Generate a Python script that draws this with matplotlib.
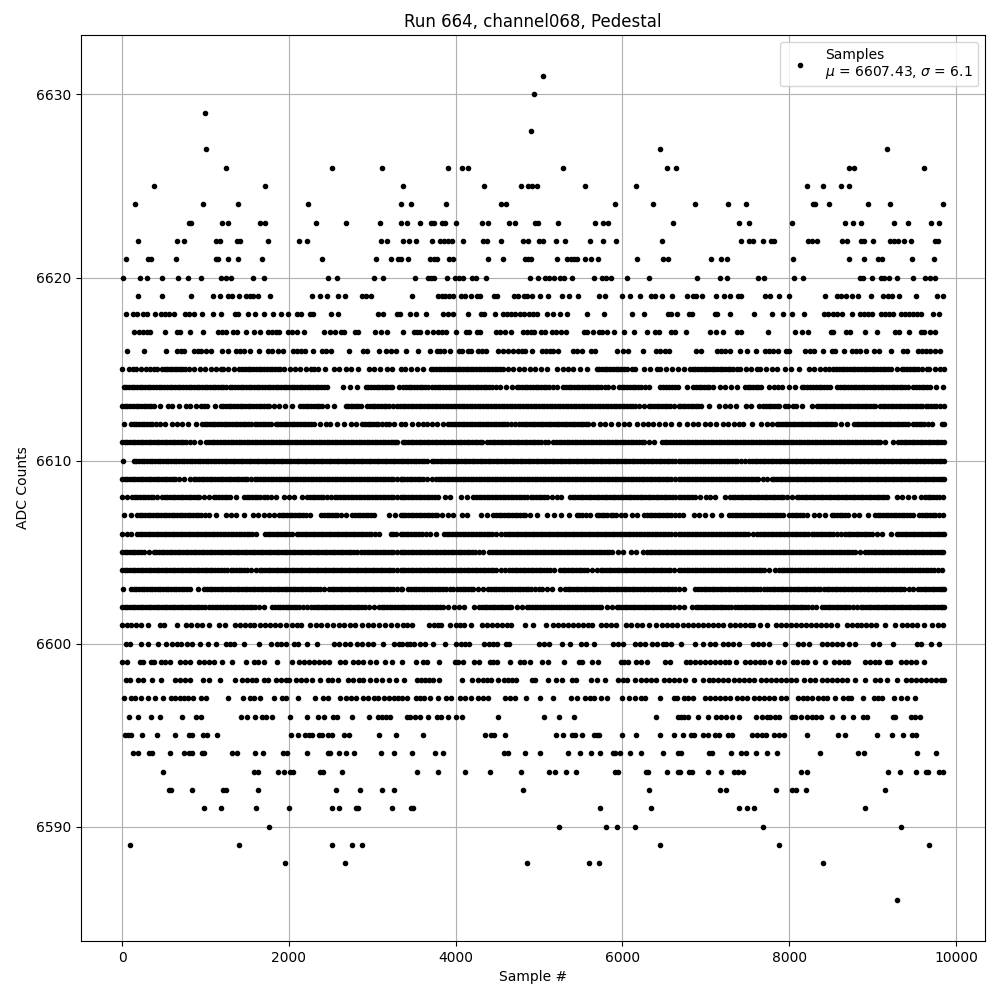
# Pedestal samples of one ADC channel. x positions read per ADC level.
import matplotlib
matplotlib.use('Agg')
import matplotlib.pyplot as plt

s6631 = [5052]
s6630 = [4944]
s6629 = [992]
s6628 = [4908]
s6627 = [1008, 6444, 9176]
s6626 = [1244, 2516, 3116, 3912, 4080, 4144, 5292, 6528, 6636, 8720, 8780, 9620]
s6625 = [380, 1712, 3364, 4344, 4788, 4872, 4920, 4980, 5556, 6168, 8216, 8400, 8620, 8720]
s6624 = [152, 968, 1388, 2228, 3340, 3468, 3888, 4548, 4600, 5916, 6360, 6872, 7268, 7484, 8288, 8312, 8480, 8948, 9212, 9848]
s6623 = [800, 828, 1200, 1268, 1652, 1712, 2324, 2688, 3092, 3340, 3412, 3576, 3708, 3744, 3840, 3876, 4008, 4320, 4392, 4644, 4716, 4956, 4992, 5232, 5676, 5772, 5832, 6600, 7400, 7520, 8036, 8672, 8768, 8864, 9260, 9428, 9704, 9800]
s6622 = [188, 656, 740, 1124, 1172, 1376, 1416, 1748, 2120, 2212, 3104, 3176, 3372, 3444, 3528, 3720, 3816, 3864, 3912, 3960, 4092, 4332, 4380, 4548, 4812, 4872, 5004, 5052, 5208, 5316, 5616, 5772, 5928, 6468, 7424, 7520, 7568, 7688, 7784, 7820, 8228, 8276, 8336, 8636, 8696, 8864, 8900, 9008, 9212, 9260, 9308, 9380, 9464, 9752, 9788]
s6621 = [44, 308, 348, 644, 1124, 1152, 1268, 1388, 1676, 2396, 3044, 3224, 3308, 3340, 3432, 3696, 3744, 3780, 3924, 3972, 4392, 4572, 4836, 4872, 4908, 5220, 5340, 5380, 5424, 5460, 5556, 5628, 5712, 6180, 6480, 6540, 7064, 7184, 7256, 8048, 8720, 8900, 9068, 9116, 9476, 9740]
s6620 = [12, 212, 296, 476, 668, 788, 944, 1184, 1248, 1304, 1568, 1700, 2468, 2576, 3020, 3128, 3516, 3672, 3708, 3744, 3900, 3996, 4044, 4092, 4200, 4248, 4368, 4896, 4992, 5076, 5124, 5184, 5256, 5304, 5400, 5664, 5760, 5808, 5868, 6060, 6312, 6896, 7172, 7256, 7628, 7700, 8060, 8168, 8852, 8888, 8996, 9104, 9140, 9200, 9296, 9488, 9632, 9692, 9752]
s6619 = [188, 476, 824, 1088, 1172, 1268, 1316, 1400, 1484, 1532, 1568, 1628, 1772, 2276, 2372, 2460, 2588, 2672, 2876, 2924, 2984, 3480, 3792, 3840, 3876, 3924, 3972, 4068, 4116, 4180, 4260, 4296, 4464, 4500, 4704, 4752, 4824, 4860, 4920, 5016, 5112, 5280, 5364, 5472, 5724, 5796, 6000, 6096, 6204, 6336, 6384, 6468, 6588, 6776, 6848, 6884, 6956, 7124, 7220, 7292, 7388, 7416, 7712, 7772, 7880, 8000, 8432, 8576, 8624, 8684, 8756, 8828, 8984, 9128, 9188, 9236, 9320, 9520, 9776, 9848]
s6618 = [48, 128, 176, 248, 296, 392, 464, 512, 560, 620, 752, 800, 860, 956, 1088, 1184, 1352, 1388, 1508, 1592, 1696, 1808, 1904, 1988, 2096, 2144, 2252, 2288, 2504, 2588, 3068, 3128, 3296, 3336, 3456, 3528, 3648, 3852, 3912, 3972, 4152, 4308, 4344, 4476, 4572, 4620, 4668, 4716, 4776, 4824, 4884, 4932, 4980, 5100, 5172, 5256, 5340, 5580, 5784, 6120, 6252, 6540, 6576, 6648, 6800, 6836, 7112, 7136, 7292, 7580, 7796, 7928, 8036, 8180, 8420, 8468, 8528, 8576, 8636, 8752, 8852, 8900, 8948, 8996, 9104, 9152, 9200, 9248, 9344, 9392, 9440, 9488, 9536, 9584, 9728, 9800]
s6617 = [140, 200, 248, 296, 332, 512, 656, 692, 812, 968, 1148, 1196, 1244, 1328, 1376, 1484, 1580, 1652, 1748, 1796, 1844, 1880, 1988, 2036, 2096, 2180, 2420, 2492, 2552, 2624, 2660, 2792, 2828, 3032, 3104, 3176, 3372, 3504, 3540, 3576, 3660, 3732, 3792, 3840, 3888, 4008, 4128, 4164, 4260, 4296, 4488, 4536, 4596, 4668, 4812, 4860, 4908, 4944, 5028, 5076, 5160, 5208, 5268, 5328, 5544, 5580, 5652, 5724, 5760, 5820, 5904, 6024, 6144, 6288, 6384, 6432, 6576, 6624, 6764, 7052, 7124, 7208, 7376, 7424, 7748, 8072, 8156, 8228, 8504, 8528, 8684, 8732, 8912, 9056, 9272, 9320, 9440, 9584, 9620, 9692, 9752]
s6616 = [60, 260, 524, 656, 704, 740, 860, 908, 944, 1004, 1064, 1196, 1268, 1364, 1412, 1460, 1532, 1640, 1748, 1796, 1868, 1928, 2048, 2096, 2144, 2192, 2288, 2396, 2444, 2504, 2720, 2888, 2936, 3080, 3164, 3224, 3284, 3408, 3552, 3696, 3780, 3816, 3864, 3936, 4044, 4080, 4152, 4188, 4272, 4320, 4368, 4512, 4572, 4632, 4692, 4752, 4800, 4836, 4920, 5040, 5088, 5136, 5172, 5232, 5412, 5460, 5520, 5628, 5676, 5940, 6012, 6072, 6240, 6396, 6444, 6504, 6552, 6884, 6944, 7136, 7184, 7232, 7292, 7412, 7496, 7604, 7712, 7760, 7808, 7868, 7964, 8000, 8192, 8252, 8300, 8408, 8516, 8552, 8652, 8756, 8804, 8852, 8924, 9020, 9080, 9224, 9368, 9416, 9548, 9596, 9644, 9692, 9752, 9812]
s6615 = [0, 80, 128, 172, 224, 284, 340, 384, 420, 480, 540, 604, 664, 720, 760, 800, 868, 940, 1000, 1064, 1124, 1180, 1212, 1272, 1336, 1400, 1440, 1504, 1572, 1636, 1700, 1768, 1832, 1892, 1940, 2008, 2072, 2136, 2204, 2260, 2300, 2348, 2432, 2540, 2600, 2680, 2748, 2828, 2960, 3024, 3088, 3180, 3240, 3340, 3396, 3460, 3540, 3612, 3700, 3764, 3828, 3892, 3960, 4024, 4088, 4120, 4144, 4212, 4276, 4340, 4404, 4468, 4532, 4572, 4632, 4692, 4756, 4820, 4888, 4952, 5020, 5092, 5220, 5292, 5352, 5412, 5492, 5580, 5692, 5756, 5820, 5888, 5952, 6020, 6112, 6156, 6260, 6332, 6412, 6452, 6520, 6592, 6660, 6740, 6808, 6872, 6940, 7004, 7068, 7132, 7196, 7260, 7328, 7376, 7408, 7476, 7544, 7616, 7652, 7720, 7788, 7856, 7952, 8020, 8116, 8240, 8296, 8364, 8428, 8480, 8528, 8596, 8660, 8728, 8792, 8860, 8924, 8988, 9052, 9120, 9184, 9288, 9348, 9416, 9480, 9548, 9648, 9680, 9748, 9812, 9852]
s6614 = [20, 84, 148, 212, 276, 340, 408, 472, 540, 604, 668, 732, 800, 864, 928, 992, 1056, 1120, 1184, 1240, 1288, 1352, 1420, 1484, 1548, 1612, 1680, 1744, 1808, 1872, 1940, 2000, 2064, 2128, 2192, 2256, 2320, 2388, 2460, 2652, 2732, 2812, 2920, 2988, 3052, 3116, 3180, 3240, 3320, 3372, 3436, 3500, 3568, 3632, 3672, 3720, 3784, 3848, 3916, 3980, 4044, 4108, 4176, 4240, 4304, 4368, 4432, 4484, 4532, 4600, 4672, 4732, 4796, 4860, 4928, 4992, 5056, 5120, 5212, 5292, 5356, 5420, 5484, 5552, 5616, 5680, 5744, 5832, 5892, 5960, 6024, 6092, 6156, 6220, 6312, 6452, 6520, 6588, 6660, 6776, 6848, 6912, 6976, 7040, 7088, 7168, 7228, 7296, 7376, 7468, 7532, 7600, 7660, 7760, 7820, 7868, 7912, 8000, 8068, 8148, 8216, 8284, 8352, 8420, 8488, 8576, 8640, 8704, 8772, 8836, 8900, 8964, 9032, 9096, 9160, 9228, 9292, 9356, 9428, 9488, 9556, 9620, 9688, 9760, 9848]
s6613 = [0, 64, 128, 196, 260, 320, 380, 460, 548, 600, 680, 772, 820, 884, 948, 980, 1020, 1120, 1180, 1244, 1308, 1376, 1440, 1504, 1568, 1636, 1700, 1764, 1880, 1948, 2040, 2132, 2200, 2268, 2332, 2400, 2460, 2540, 2680, 2744, 2800, 2860, 2940, 3004, 3068, 3136, 3200, 3300, 3332, 3396, 3460, 3524, 3588, 3652, 3716, 3780, 3844, 3912, 3976, 4040, 4104, 4168, 4232, 4296, 4360, 4424, 4488, 4552, 4616, 4680, 4744, 4808, 4872, 4936, 5000, 5064, 5128, 5192, 5256, 5320, 5384, 5448, 5512, 5576, 5640, 5704, 5768, 5832, 5896, 5960, 6024, 6088, 6152, 6252, 6312, 6376, 6440, 6504, 6568, 6672, 6688, 6752, 6816, 6880, 6936, 7040, 7160, 7228, 7292, 7356, 7476, 7536, 7640, 7688, 7752, 7816, 7880, 7944, 8040, 8080, 8148, 8268, 8328, 8392, 8456, 8520, 8584, 8648, 8712, 8776, 8840, 8904, 8968, 9028, 9088, 9152, 9216, 9280, 9344, 9408, 9472, 9536, 9588, 9636, 9700, 9764, 9852]
s6612 = [20, 108, 172, 236, 300, 364, 452, 520, 600, 660, 724, 788, 892, 960, 1024, 1088, 1152, 1216, 1284, 1348, 1412, 1476, 1540, 1588, 1652, 1716, 1780, 1840, 1904, 1968, 2032, 2096, 2164, 2228, 2300, 2372, 2440, 2492, 2580, 2660, 2740, 2808, 2880, 2944, 3008, 3072, 3160, 3200, 3264, 3340, 3392, 3480, 3548, 3612, 3652, 3716, 3780, 3852, 3912, 3976, 4040, 4104, 4168, 4232, 4296, 4360, 4424, 4488, 4552, 4616, 4712, 4764, 4828, 4892, 4956, 5020, 5084, 5148, 5212, 5276, 5340, 5404, 5468, 5532, 5592, 5652, 5732, 5796, 5860, 5952, 6020, 6084, 6172, 6240, 6304, 6368, 6432, 6512, 6576, 6672, 6768, 6840, 6908, 6988, 7048, 7116, 7200, 7268, 7332, 7396, 7448, 7556, 7664, 7728, 7788, 7848, 7912, 7976, 8040, 8104, 8168, 8232, 8296, 8360, 8424, 8488, 8548, 8616, 8688, 8776, 8840, 8904, 8968, 9032, 9096, 9160, 9224, 9288, 9352, 9428, 9488, 9552, 9616, 9708, 9828, 9850]
s6611 = [0, 64, 128, 192, 256, 320, 384, 448, 512, 576, 640, 704, 768, 860, 940, 1012, 1076, 1140, 1204, 1268, 1332, 1396, 1460, 1524, 1588, 1652, 1716, 1780, 1844, 1908, 1972, 2036, 2100, 2164, 2228, 2292, 2356, 2420, 2484, 2548, 2612, 2676, 2740, 2804, 2868, 2932, 2996, 3060, 3124, 3188, 3252, 3300, 3364, 3428, 3492, 3556, 3620, 3684, 3748, 3812, 3876, 3940, 4004, 4068, 4132, 4196, 4260, 4312, 4380, 4444, 4508, 4572, 4636, 4700, 4764, 4828, 4892, 4956, 5020, 5112, 5172, 5236, 5300, 5364, 5428, 5492, 5556, 5620, 5684, 5748, 5812, 5876, 5940, 6004, 6068, 6132, 6196, 6260, 6372, 6472, 6536, 6600, 6672, 6736, 6800, 6864, 6928, 6992, 7056, 7120, 7184, 7248, 7312, 7376, 7440, 7504, 7568, 7632, 7696, 7760, 7824, 7888, 7952, 8016, 8080, 8144, 8208, 8272, 8336, 8400, 8464, 8528, 8592, 8656, 8720, 8784, 8848, 8912, 8976, 9040, 9088, 9148, 9248, 9308, 9372, 9436, 9500, 9564, 9628, 9692, 9756, 9820, 9854]
s6610 = [12, 140, 204, 268, 332, 396, 460, 524, 588, 652, 716, 780, 844, 908, 972, 1036, 1100, 1164, 1228, 1292, 1356, 1420, 1484, 1548, 1612, 1676, 1740, 1804, 1868, 1932, 1996, 2060, 2124, 2188, 2252, 2316, 2380, 2444, 2508, 2572, 2636, 2700, 2764, 2828, 2892, 2956, 3020, 3084, 3148, 3212, 3276, 3340, 3400, 3464, 3528, 3592, 3652, 3712, 3776, 3840, 3904, 3968, 4032, 4096, 4160, 4224, 4288, 4352, 4416, 4480, 4544, 4608, 4672, 4736, 4800, 4864, 4928, 4992, 5056, 5120, 5184, 5248, 5312, 5376, 5440, 5504, 5568, 5632, 5696, 5760, 5824, 5888, 5952, 6016, 6080, 6144, 6208, 6272, 6336, 6400, 6464, 6528, 6592, 6672, 6736, 6800, 6864, 6928, 6992, 7056, 7120, 7184, 7248, 7312, 7376, 7468, 7520, 7584, 7648, 7712, 7776, 7840, 7904, 7968, 8032, 8096, 8160, 8224, 8288, 8352, 8416, 8480, 8544, 8608, 8672, 8736, 8800, 8864, 8928, 8992, 9056, 9120, 9184, 9248, 9312, 9376, 9440, 9504, 9568, 9632, 9696, 9760, 9824, 9850]
s6609 = [0, 64, 128, 192, 256, 320, 384, 448, 512, 576, 640, 680, 748, 820, 860, 924, 988, 1052, 1116, 1180, 1244, 1308, 1372, 1436, 1500, 1540, 1588, 1652, 1716, 1780, 1844, 1908, 1972, 2036, 2100, 2164, 2228, 2292, 2356, 2420, 2484, 2548, 2612, 2676, 2740, 2804, 2868, 2932, 2996, 3060, 3124, 3188, 3252, 3340, 3352, 3416, 3480, 3544, 3608, 3712, 3764, 3828, 3892, 3956, 4020, 4084, 4148, 4212, 4276, 4340, 4404, 4468, 4532, 4596, 4660, 4724, 4788, 4852, 4916, 4980, 5044, 5108, 5172, 5236, 5300, 5364, 5428, 5492, 5556, 5620, 5684, 5748, 5812, 5876, 5940, 6004, 6068, 6132, 6196, 6260, 6324, 6388, 6452, 6516, 6580, 6672, 6736, 6800, 6864, 6928, 6992, 7056, 7120, 7184, 7248, 7312, 7376, 7440, 7504, 7568, 7628, 7688, 7736, 7788, 7852, 7916, 7980, 8044, 8108, 8172, 8236, 8300, 8364, 8428, 8492, 8556, 8620, 8684, 8748, 8812, 8876, 8940, 9004, 9068, 9132, 9196, 9260, 9324, 9388, 9452, 9516, 9580, 9644, 9708, 9772, 9836, 9854]
s6608 = [0, 60, 120, 184, 248, 312, 376, 420, 480, 544, 608, 672, 736, 800, 864, 928, 1040, 1100, 1164, 1228, 1292, 1360, 1460, 1524, 1588, 1652, 1740, 1780, 1844, 1940, 2000, 2064, 2160, 2220, 2284, 2348, 2412, 2500, 2548, 2612, 2676, 2740, 2804, 2868, 2932, 2996, 3060, 3124, 3188, 3252, 3340, 3396, 3460, 3524, 3588, 3652, 3716, 3792, 3872, 3936, 4060, 4132, 4212, 4276, 4340, 4404, 4468, 4532, 4596, 4660, 4724, 4788, 4852, 4900, 4964, 5028, 5092, 5212, 5260, 5372, 5436, 5500, 5564, 5628, 5692, 5756, 5820, 5884, 5948, 6012, 6076, 6140, 6204, 6268, 6332, 6396, 6460, 6524, 6588, 6672, 6736, 6800, 6864, 7000, 7048, 7112, 7228, 7288, 7352, 7416, 7480, 7544, 7608, 7672, 7736, 7800, 7864, 7928, 8028, 8088, 8152, 8216, 8280, 8344, 8408, 8472, 8536, 8600, 8664, 8728, 8792, 8856, 8920, 8984, 9048, 9112, 9168, 9288, 9348, 9428, 9500, 9576, 9628, 9692, 9756, 9848]
s6607 = [20, 108, 180, 244, 308, 372, 436, 500, 564, 628, 692, 756, 820, 884, 948, 1040, 1124, 1240, 1304, 1368, 1460, 1568, 1628, 1700, 1760, 1820, 1880, 1944, 2008, 2072, 2136, 2200, 2252, 2388, 2452, 2516, 2580, 2680, 2760, 2824, 2888, 2952, 3020, 3200, 3268, 3340, 3396, 3460, 3524, 3588, 3652, 3716, 3780, 3832, 3912, 3972, 4080, 4132, 4300, 4380, 4452, 4516, 4580, 4644, 4708, 4772, 4832, 4892, 4980, 5092, 5180, 5260, 5364, 5452, 5516, 5612, 5692, 5756, 5812, 5860, 5924, 6032, 6112, 6180, 6260, 6324, 6388, 6452, 6516, 6580, 6672, 6728, 6856, 6920, 6984, 7068, 7184, 7280, 7344, 7408, 7472, 7536, 7600, 7664, 7728, 7792, 7856, 7928, 8000, 8064, 8128, 8208, 8296, 8360, 8428, 8508, 8572, 8636, 8708, 8776, 8840, 8948, 9028, 9092, 9156, 9220, 9284, 9348, 9412, 9488, 9560, 9624, 9688, 9752, 9848]
s6606 = [0, 64, 108, 180, 244, 308, 372, 436, 500, 564, 628, 692, 756, 820, 884, 948, 1012, 1076, 1140, 1204, 1268, 1332, 1396, 1460, 1524, 1600, 1712, 1776, 1840, 1904, 1968, 2040, 2092, 2156, 2220, 2284, 2348, 2412, 2476, 2540, 2604, 2668, 2732, 2796, 2860, 2924, 2988, 3080, 3220, 3284, 3340, 3400, 3464, 3528, 3592, 3692, 3760, 3860, 3924, 3988, 4052, 4116, 4180, 4244, 4308, 4372, 4436, 4540, 4592, 4656, 4720, 4784, 4848, 4912, 4976, 5040, 5104, 5168, 5232, 5296, 5360, 5424, 5488, 5552, 5616, 5680, 5744, 5808, 5872, 5936, 6000, 6064, 6128, 6192, 6256, 6320, 6384, 6448, 6512, 6576, 6672, 6736, 6800, 6864, 6928, 6992, 7056, 7120, 7184, 7248, 7312, 7376, 7440, 7504, 7616, 7648, 7712, 7776, 7840, 7904, 7968, 8032, 8096, 8160, 8228, 8268, 8332, 8396, 8460, 8524, 8616, 8668, 8732, 8796, 8860, 8924, 8988, 9108, 9216, 9288, 9352, 9416, 9480, 9544, 9608, 9672, 9736, 9800, 9852]
s6605 = [0, 64, 128, 192, 260, 320, 380, 444, 508, 572, 636, 700, 764, 828, 892, 956, 1020, 1084, 1148, 1212, 1276, 1340, 1404, 1468, 1532, 1596, 1660, 1724, 1788, 1852, 1916, 1980, 2044, 2108, 2172, 2236, 2300, 2364, 2428, 2492, 2556, 2620, 2684, 2748, 2812, 2868, 2932, 2996, 3060, 3124, 3188, 3252, 3340, 3396, 3460, 3524, 3588, 3652, 3716, 3780, 3844, 3908, 3972, 4036, 4100, 4164, 4228, 4332, 4404, 4468, 4532, 4596, 4660, 4724, 4788, 4852, 4916, 4980, 5044, 5108, 5172, 5236, 5300, 5364, 5428, 5492, 5556, 5620, 5684, 5748, 5812, 5876, 6012, 6100, 6164, 6244, 6292, 6356, 6420, 6484, 6548, 6612, 6672, 6736, 6800, 6864, 6928, 6992, 7056, 7120, 7184, 7248, 7312, 7376, 7440, 7504, 7568, 7632, 7696, 7760, 7824, 7888, 7952, 8016, 8080, 8144, 8208, 8272, 8336, 8400, 8464, 8528, 8592, 8656, 8720, 8784, 8908, 8948, 9012, 9076, 9140, 9204, 9268, 9332, 9396, 9460, 9524, 9588, 9652, 9716, 9780, 9848]
s6604 = [0, 64, 128, 192, 256, 320, 384, 448, 512, 576, 640, 704, 768, 832, 896, 960, 1024, 1080, 1120, 1180, 1252, 1300, 1364, 1428, 1492, 1600, 1648, 1712, 1776, 1840, 1904, 1968, 2032, 2096, 2160, 2224, 2288, 2352, 2416, 2480, 2544, 2608, 2672, 2736, 2800, 2864, 2928, 2992, 3056, 3120, 3184, 3248, 3340, 3396, 3460, 3524, 3588, 3652, 3716, 3780, 3844, 3908, 3972, 4036, 4100, 4164, 4228, 4292, 4356, 4420, 4484, 4592, 4644, 4708, 4772, 4836, 4900, 4964, 5028, 5092, 5180, 5252, 5316, 5380, 5444, 5508, 5572, 5692, 5740, 5804, 5868, 5932, 5996, 6060, 6124, 6188, 6252, 6316, 6380, 6444, 6508, 6572, 6672, 6736, 6800, 6864, 6928, 6992, 7056, 7120, 7184, 7248, 7312, 7376, 7440, 7504, 7568, 7632, 7696, 7828, 7876, 7940, 8004, 8068, 8132, 8196, 8260, 8324, 8388, 8452, 8516, 8580, 8644, 8708, 8772, 8836, 8900, 8964, 9028, 9092, 9156, 9220, 9284, 9348, 9412, 9476, 9540, 9604, 9668, 9732, 9836]
s6603 = [12, 108, 172, 236, 300, 364, 428, 492, 556, 620, 684, 748, 820, 908, 988, 1052, 1116, 1180, 1244, 1308, 1372, 1436, 1500, 1564, 1628, 1692, 1756, 1820, 1884, 1948, 2012, 2076, 2140, 2204, 2268, 2332, 2420, 2480, 2544, 2608, 2672, 2736, 2800, 2864, 2928, 2992, 3056, 3120, 3184, 3248, 3340, 3352, 3432, 3496, 3560, 3624, 3688, 3752, 3816, 3880, 3972, 4020, 4084, 4148, 4212, 4332, 4392, 4456, 4520, 4584, 4648, 4712, 4776, 4840, 4904, 5000, 5032, 5096, 5160, 5252, 5312, 5376, 5440, 5504, 5568, 5632, 5696, 5760, 5824, 5888, 5952, 6016, 6080, 6144, 6208, 6272, 6336, 6400, 6464, 6528, 6592, 6672, 6736, 6868, 6908, 6972, 7036, 7100, 7164, 7228, 7292, 7356, 7420, 7484, 7548, 7612, 7696, 7736, 7800, 7864, 7928, 7992, 8056, 8120, 8184, 8248, 8312, 8368, 8416, 8480, 8544, 8608, 8672, 8736, 8800, 8864, 8928, 8992, 9056, 9120, 9184, 9248, 9312, 9376, 9488, 9548, 9612, 9676, 9740, 9804, 9852]
s6602 = [0, 64, 128, 192, 256, 320, 384, 448, 512, 576, 640, 704, 768, 832, 896, 960, 1040, 1080, 1144, 1208, 1272, 1336, 1400, 1464, 1528, 1592, 1700, 1800, 1864, 1928, 1992, 2056, 2120, 2220, 2268, 2332, 2396, 2460, 2524, 2588, 2652, 2716, 2780, 2844, 2908, 3020, 3080, 3144, 3208, 3272, 3340, 3396, 3460, 3524, 3588, 3652, 3716, 3780, 3852, 3912, 3976, 4040, 4104, 4220, 4284, 4348, 4412, 4476, 4540, 4604, 4668, 4792, 4852, 4916, 4980, 5044, 5108, 5172, 5236, 5300, 5364, 5428, 5492, 5556, 5620, 5684, 5748, 5872, 5932, 5996, 6060, 6124, 6188, 6252, 6316, 6380, 6444, 6508, 6572, 6672, 6736, 6828, 6876, 6940, 7004, 7068, 7132, 7196, 7260, 7348, 7388, 7452, 7516, 7580, 7644, 7708, 7772, 7836, 7900, 7964, 8028, 8092, 8156, 8220, 8320, 8396, 8460, 8524, 8588, 8652, 8716, 8808, 8856, 8920, 8984, 9048, 9112, 9176, 9240, 9304, 9368, 9432, 9496, 9560, 9624, 9688, 9752, 9816, 9854]
s6601 = [0, 56, 104, 164, 224, 308, 452, 500, 656, 764, 824, 896, 956, 1040, 1160, 1232, 1352, 1412, 1472, 1532, 1580, 1652, 1712, 1772, 1832, 1892, 1964, 2036, 2096, 2144, 2252, 2324, 2384, 2456, 2528, 2600, 2660, 2732, 2792, 2876, 2948, 3008, 3080, 3152, 3224, 3296, 3364, 3412, 3472, 3684, 3744, 3792, 3828, 3936, 4008, 4056, 4104, 4188, 4320, 4380, 4440, 4500, 4560, 4620, 4668, 4836, 4932, 5088, 5172, 5232, 5292, 5352, 5412, 5472, 5532, 5592, 5640, 5748, 5808, 5868, 5928, 6048, 6108, 6180, 6228, 6312, 6396, 6468, 6528, 6588, 6648, 6728, 6788, 6848, 6908, 6968, 7028, 7088, 7148, 7208, 7292, 7352, 7412, 7472, 7532, 7568, 7652, 7736, 7844, 7904, 7964, 8024, 8084, 8144, 8204, 8264, 8324, 8384, 8444, 8504, 8576, 8696, 8756, 8816, 8864, 8924, 8984, 9044, 9152, 9272, 9356, 9416, 9476, 9536, 9620, 9716, 9788, 9848]
s6600 = [44, 92, 224, 308, 428, 524, 596, 656, 704, 776, 836, 932, 1028, 1124, 1244, 1292, 1340, 1460, 1640, 1784, 1856, 1904, 1964, 2060, 2108, 2216, 2336, 2540, 2600, 2672, 2732, 2816, 2876, 2948, 3008, 3128, 3260, 3320, 3360, 3412, 3456, 3504, 3576, 3636, 3732, 3876, 4008, 4068, 4116, 4164, 4344, 4404, 4452, 4500, 4608, 4644, 5004, 5064, 5124, 5280, 5376, 5508, 5568, 5664, 5892, 5952, 6012, 6156, 6204, 6264, 6348, 6408, 6480, 6516, 6576, 6704, 6872, 6968, 7052, 7112, 7208, 7268, 7328, 7400, 7568, 7628, 7688, 7760, 7952, 8108, 8168, 8240, 8396, 8456, 8516, 8576, 8636, 8720, 8792, 9008, 9080, 9248, 9536, 9584, 9704, 9800]
s6599 = [4, 56, 212, 248, 344, 380, 464, 512, 572, 692, 752, 812, 920, 980, 1040, 1100, 1196, 1316, 1484, 1580, 1628, 1700, 1856, 2036, 2120, 2180, 2240, 2300, 2360, 2420, 2480, 2612, 2672, 2768, 2828, 2888, 2972, 3044, 3152, 3236, 3360, 3528, 3612, 3660, 3804, 3996, 4032, 4092, 4224, 4284, 4416, 4452, 4500, 4656, 4776, 4824, 4896, 5040, 5112, 5304, 5484, 5520, 5640, 5712, 5988, 6024, 6068, 6168, 6216, 6288, 6504, 6564, 6764, 6812, 6872, 6932, 6992, 7052, 7112, 7172, 7232, 7280, 7364, 7472, 7532, 7592, 7652, 7700, 7772, 7868, 7940, 8048, 8096, 8168, 8216, 8312, 8432, 8540, 8600, 8660, 8708, 8912, 8972, 9032, 9080, 9176, 9212, 9344, 9404, 9464, 9524, 9620]
s6598 = [44, 92, 188, 248, 360, 464, 632, 692, 752, 812, 968, 1044, 1172, 1348, 1436, 1496, 1556, 1604, 1700, 1748, 1844, 1904, 1964, 2000, 2084, 2144, 2204, 2276, 2376, 2468, 2516, 2588, 2708, 2768, 2840, 2888, 2972, 3044, 3116, 3200, 3284, 3384, 3540, 3588, 3636, 3684, 3732, 3804, 4080, 4200, 4272, 4332, 4380, 4428, 4512, 4584, 4632, 4680, 4728, 4920, 4956, 5112, 5208, 5280, 5400, 5448, 5628, 5700, 5792, 5952, 6012, 6060, 6156, 6216, 6276, 6336, 6396, 6492, 6552, 6612, 6672, 6752, 6860, 6968, 7040, 7088, 7148, 7208, 7268, 7340, 7400, 7460, 7520, 7580, 7664, 7724, 7784, 7844, 7904, 7964, 8024, 8084, 8180, 8252, 8312, 8396, 8456, 8516, 8576, 8636, 8696, 8792, 8912, 9032, 9092, 9176, 9288, 9404, 9464, 9524, 9584, 9644, 9704, 9764, 9824, 9850]
s6597 = [20, 104, 152, 224, 308, 392, 488, 584, 632, 692, 740, 788, 848, 944, 1004, 1268, 1448, 1532, 1580, 1652, 1820, 1916, 1964, 2108, 2308, 2408, 2468, 2612, 2684, 2744, 2804, 2884, 2944, 3020, 3068, 3140, 3200, 3260, 3308, 3360, 3412, 3528, 3576, 3624, 3696, 3792, 3888, 3948, 4056, 4116, 4188, 4272, 4332, 4392, 4596, 4656, 4716, 4848, 5012, 5172, 5384, 5460, 5556, 5616, 5664, 5748, 5820, 6000, 6084, 6156, 6216, 6264, 6444, 6612, 6648, 6740, 6788, 6848, 6992, 7052, 7112, 7172, 7232, 7292, 7376, 7436, 7496, 7580, 7640, 7700, 7760, 7820, 7904, 7964, 8108, 8168, 8216, 8276, 8348, 8408, 8456, 8552, 8648, 8708, 8744, 8888, 9020, 9068, 9116, 9260, 9344, 9416, 9512]
s6596 = [80, 188, 344, 452, 716, 884, 944, 1424, 1496, 1592, 1676, 1724, 1792, 2012, 2216, 2348, 2420, 2528, 2572, 2756, 2960, 3068, 3116, 3164, 3212, 3420, 3456, 3516, 3576, 3672, 3780, 3828, 3912, 4008, 4080, 4512, 5064, 5244, 5424, 6396, 6660, 6704, 6740, 6788, 6908, 7028, 7124, 7184, 7244, 7316, 7400, 7604, 7676, 7736, 7772, 7832, 7880, 8036, 8072, 8144, 8216, 8276, 8324, 8384, 8516, 8648, 8768, 8888, 8936, 9248, 9272, 9464, 9512, 9572]
s6595 = [32, 68, 104, 236, 416, 632, 800, 836, 968, 1020, 1136, 2024, 2108, 2192, 2240, 2276, 2360, 2396, 2468, 2516, 2660, 2720, 3080, 3284, 3612, 4356, 4428, 4464, 4596, 5208, 5292, 5400, 5436, 5520, 5664, 5700, 5724, 6000, 6168, 6444, 6612, 6728, 6824, 6860, 6968, 7028, 7112, 7160, 7268, 7316, 7556, 7616, 7676, 7724, 7820, 7872, 7940, 8216, 8588, 8672, 9056, 9228, 9368, 9476, 9524]
s6594 = [128, 188, 320, 356, 572, 740, 800, 836, 956, 980, 1316, 1376, 1592, 1688, 1928, 1976, 2216, 2468, 2492, 2600, 2684, 2780, 3104, 3260, 3480, 3756, 3852, 4584, 4632, 4836, 5016, 5352, 5496, 5628, 5736, 5892, 5916, 5976, 6096, 6216, 6480, 6660, 6704, 7040, 7076, 7304, 7424, 7484, 7604, 7736, 7856, 8372, 8828, 8900, 9536, 9764]
s6593 = [488, 1580, 1628, 1868, 1940, 2012, 2048, 2372, 2408, 2636, 3540, 3792, 4116, 4416, 4788, 5124, 5196, 5328, 5448, 5916, 5952, 6276, 6300, 6528, 6660, 6688, 6800, 6836, 7020, 7184, 7340, 7388, 7448, 8144, 8216, 9188, 9332, 9524, 9644, 9668, 9800, 9848]
s6592 = [560, 584, 836, 1208, 1244, 1628, 2564, 2852, 3116, 3260, 4812, 6312, 7172, 7244, 7844, 8036, 8084, 8204, 9152]
s6591 = [980, 1184, 1604, 2000, 2516, 2600, 2804, 2828, 3236, 3468, 3492, 5736, 6336, 7400, 7496, 7580, 8912]
s6590 = [1760, 5244, 5808, 5940, 6156, 7688, 9344]
s6589 = [92, 1400, 2516, 2756, 2876, 6444, 7880, 9680]
s6588 = [1952, 2672, 4860, 5604, 5724, 8408]
s6586 = [9296]

# second pass over the bands that look solid in the picture
e6615 = [510, 572, 634, 696, 1472, 1536, 1604, 1668, 1732, 1800, 1864, 3732, 3796, 3860, 3924, 3992, 4056, 4180, 4244, 4308, 4372, 4436, 4500, 5724, 5788, 5852, 5920, 5984, 6060, 6840, 6904, 6972, 7036, 7100, 7164, 7228, 7292, 8560, 8628, 8692, 8760, 8824, 8892, 8956, 9020, 9084, 9152, 9216, 9380, 9448, 9512, 9596]
e6614 = [52, 116, 180, 244, 308, 372, 440, 506, 572, 636, 700, 766, 832, 896, 960, 1024, 1088, 1152, 1212, 1320, 1386, 1452, 1516, 1580, 1646, 1712, 1776, 1840, 1906, 1970, 2032, 2096, 2160, 2224, 2288, 2354, 2424, 2954, 3020, 3084, 3148, 3210, 3404, 3468, 3534, 3600, 3752, 3816, 3882, 3948, 4012, 4076, 4142, 4208, 4272, 4336, 4400, 4764, 4828, 4894, 4960, 5024, 5088, 5166, 5324, 5388, 5452, 5518, 5584, 5648, 5712, 5788, 5992, 6058, 6124, 6188, 6266, 6486, 6554, 6624, 6880, 6944, 7008, 7500, 7566, 7630, 8182, 8250, 8318, 8386, 8454, 8608, 8672, 8738, 8804, 8868, 8932, 8998, 9064, 9128, 9194, 9260, 9324, 9392, 9522, 9588, 9654]
e6613 = [32, 96, 162, 228, 290, 350, 1212, 1276, 1342, 1408, 1472, 1536, 1602, 1668, 1732, 1822, 2166, 2234, 2300, 2366, 2712, 2772, 2830, 2972, 3036, 3102, 3168, 3250, 3364, 3428, 3492, 3556, 3620, 3684, 3748, 3812, 3878, 3944, 4008, 4072, 4136, 4200, 4264, 4328, 4392, 4456, 4520, 4584, 4648, 4712, 4776, 4840, 4904, 4968, 5032, 5096, 5160, 5224, 5288, 5352, 5416, 5480, 5544, 5608, 5672, 5736, 5800, 5864, 5928, 5992, 6056, 6120, 6200, 6344, 6408, 6472, 6536, 6620, 6720, 6784, 6848, 6908, 7720, 7784, 7848, 7990, 8360, 8424, 8488, 8552, 8616, 8680, 8744, 8808, 8872, 8936, 8998, 9120, 9184, 9248, 9312, 9376, 9440, 9504, 9562, 9668, 9732, 9808]
e6612 = [140, 204, 268, 332, 408, 992, 1056, 1120, 1184, 1250, 1316, 1380, 1444, 1508, 1620, 1684, 1748, 1872, 1936, 2000, 2064, 2130, 2196, 2264, 2912, 2976, 3040, 3116, 3944, 4008, 4072, 4136, 4200, 4264, 4328, 4392, 4456, 4520, 4584, 4664, 4796, 4860, 4924, 4988, 5052, 5116, 5180, 5244, 5308, 5372, 5436, 5500, 5562, 7880, 7944, 8008, 8072, 8136, 8200, 8264, 8328, 8392, 8456, 8518, 8808, 8872, 8936, 9000, 9064, 9128, 9192, 9256, 9320, 9390, 9520, 9584, 9662]
e6611 = [32, 96, 160, 224, 288, 352, 416, 480, 544, 608, 672, 736, 814, 1044, 1108, 1172, 1236, 1300, 1364, 1428, 1492, 1556, 1620, 1684, 1748, 1812, 1876, 1940, 2004, 2068, 2132, 2196, 2260, 2324, 2388, 2452, 2516, 2580, 2644, 2708, 2772, 2836, 2900, 2964, 3028, 3092, 3156, 3220, 3276, 3396, 3460, 3524, 3588, 3652, 3716, 3780, 3844, 3908, 3972, 4036, 4100, 4164, 4228, 4286, 4412, 4476, 4540, 4604, 4668, 4732, 4796, 4860, 4924, 4988, 5066, 5204, 5268, 5332, 5396, 5460, 5524, 5588, 5652, 5716, 5780, 5844, 5908, 5972, 6036, 6100, 6164, 6228, 6316, 6504, 6568, 6636, 6704, 6768, 6832, 6896, 6960, 7024, 7088, 7152, 7216, 7280, 7344, 7408, 7472, 7536, 7600, 7664, 7728, 7792, 7856, 7920, 7984, 8048, 8112, 8176, 8240, 8304, 8368, 8432, 8496, 8560, 8624, 8688, 8752, 8816, 8880, 8944, 9008, 9064, 9340, 9404, 9468, 9532, 9596, 9660, 9724, 9788]
e6610 = [172, 236, 300, 364, 428, 492, 556, 620, 684, 748, 812, 876, 940, 1004, 1068, 1132, 1196, 1260, 1324, 1388, 1452, 1516, 1580, 1644, 1708, 1772, 1836, 1900, 1964, 2028, 2092, 2156, 2220, 2284, 2348, 2412, 2476, 2540, 2604, 2668, 2732, 2796, 2860, 2924, 2988, 3052, 3116, 3180, 3244, 3308, 3370, 3432, 3496, 3560, 3622, 3744, 3808, 3872, 3936, 4000, 4064, 4128, 4192, 4256, 4320, 4384, 4448, 4512, 4576, 4640, 4704, 4768, 4832, 4896, 4960, 5024, 5088, 5152, 5216, 5280, 5344, 5408, 5472, 5536, 5600, 5664, 5728, 5792, 5856, 5920, 5984, 6048, 6112, 6176, 6240, 6304, 6368, 6432, 6496, 6560, 6630, 6704, 6768, 6832, 6896, 6960, 7024, 7088, 7152, 7216, 7280, 7344, 7420, 7552, 7616, 7680, 7744, 7808, 7872, 7936, 8000, 8064, 8128, 8192, 8256, 8320, 8384, 8448, 8512, 8576, 8640, 8704, 8768, 8832, 8896, 8960, 9024, 9088, 9152, 9216, 9280, 9344, 9408, 9472, 9536, 9600, 9664, 9728, 9792]
e6609 = [32, 96, 160, 224, 288, 352, 416, 480, 544, 608, 892, 956, 1020, 1084, 1148, 1212, 1276, 1340, 1404, 1468, 1620, 1684, 1748, 1812, 1876, 1940, 2004, 2068, 2132, 2196, 2260, 2324, 2388, 2452, 2516, 2580, 2644, 2708, 2772, 2836, 2900, 2964, 3028, 3092, 3156, 3220, 3296, 3384, 3448, 3512, 3576, 3660, 3796, 3860, 3924, 3988, 4052, 4116, 4180, 4244, 4308, 4372, 4436, 4500, 4564, 4628, 4692, 4756, 4820, 4884, 4948, 5012, 5076, 5140, 5204, 5268, 5332, 5396, 5460, 5524, 5588, 5652, 5716, 5780, 5844, 5908, 5972, 6036, 6100, 6164, 6228, 6292, 6356, 6420, 6484, 6548, 6626, 6704, 6768, 6832, 6896, 6960, 7024, 7088, 7152, 7216, 7280, 7344, 7408, 7472, 7536, 7598, 7820, 7884, 7948, 8012, 8076, 8140, 8204, 8268, 8332, 8396, 8460, 8524, 8588, 8652, 8716, 8780, 8844, 8908, 8972, 9036, 9100, 9164, 9228, 9292, 9356, 9420, 9484, 9548, 9612, 9676, 9740, 9804]
e6608 = [152, 216, 280, 344, 512, 576, 640, 704, 768, 832, 896, 984, 1132, 1196, 1260, 1492, 1556, 1620, 1696, 2252, 2316, 2380, 2456, 2580, 2644, 2708, 2772, 2836, 2900, 2964, 3028, 3092, 3156, 3220, 3296, 3364, 3428, 3492, 3556, 3620, 3684, 3754, 4244, 4308, 4372, 4436, 4500, 4564, 4628, 4692, 4756, 4820, 4932, 4996, 5060, 5152, 5404, 5468, 5532, 5596, 5660, 5724, 5788, 5852, 5916, 5980, 6044, 6108, 6172, 6236, 6300, 6364, 6428, 6492, 6556, 6630, 6704, 6768, 6832, 6932, 7320, 7384, 7448, 7512, 7576, 7640, 7704, 7768, 7832, 7896, 7978, 8120, 8184, 8248, 8312, 8376, 8440, 8504, 8568, 8632, 8696, 8760, 8824, 8888, 8952, 9016, 9080, 9140, 9660, 9724, 9800]
e6607 = [212, 276, 340, 404, 468, 532, 596, 660, 724, 788, 852, 916, 994, 1912, 1976, 2040, 2104, 2168, 2420, 2484, 2548, 2630, 2792, 2856, 2920, 2986, 3364, 3428, 3492, 3556, 3620, 3684, 3748, 4484, 4548, 4612, 4676, 4740, 4802, 5484, 5564, 5724, 5784, 5892, 5978, 6292, 6356, 6420, 6484, 6548, 6626, 7312, 7376, 7440, 7504, 7568, 7632, 7696, 7760, 7824, 7892, 8032, 8096, 8168, 8540, 8604, 8672, 9060, 9124, 9188, 9252, 9316, 9380, 9450, 9592, 9656, 9720, 9800]
e6606 = [212, 276, 340, 404, 468, 532, 596, 660, 724, 788, 852, 916, 980, 1044, 1108, 1172, 1236, 1300, 1364, 1428, 1492, 1562, 1744, 1808, 1872, 1936, 2004, 2124, 2188, 2252, 2316, 2380, 2444, 2508, 2572, 2636, 2700, 2764, 2828, 2892, 2956, 3034, 3252, 3370, 3432, 3496, 3560, 3642, 3892, 3956, 4020, 4084, 4148, 4212, 4276, 4340, 4404, 4488, 4624, 4688, 4752, 4816, 4880, 4944, 5008, 5072, 5136, 5200, 5264, 5328, 5392, 5456, 5520, 5584, 5648, 5712, 5776, 5840, 5904, 5968, 6032, 6096, 6160, 6224, 6288, 6352, 6416, 6480, 6544, 6624, 6704, 6768, 6832, 6896, 6960, 7024, 7088, 7152, 7216, 7280, 7344, 7408, 7472, 7560, 7680, 7744, 7808, 7872, 7936, 8000, 8064, 8128, 8194, 8300, 8364, 8428, 8492, 8570, 8700, 8764, 8828, 8892, 8956, 9048, 9320, 9384, 9448, 9512, 9576, 9640, 9704, 9768, 9826]
e6605 = [32, 96, 160, 226, 412, 476, 540, 604, 668, 732, 796, 860, 924, 988, 1052, 1116, 1180, 1244, 1308, 1372, 1436, 1500, 1564, 1628, 1692, 1756, 1820, 1884, 1948, 2012, 2076, 2140, 2204, 2268, 2332, 2396, 2460, 2524, 2588, 2652, 2716, 2780, 2900, 2964, 3028, 3092, 3156, 3220, 3296, 3364, 3428, 3492, 3556, 3620, 3684, 3748, 3812, 3876, 3940, 4004, 4068, 4132, 4196, 4280, 4436, 4500, 4564, 4628, 4692, 4756, 4820, 4884, 4948, 5012, 5076, 5140, 5204, 5268, 5332, 5396, 5460, 5524, 5588, 5652, 5716, 5780, 5844, 5944, 6324, 6388, 6452, 6516, 6580, 6640, 6704, 6768, 6832, 6896, 6960, 7024, 7088, 7152, 7216, 7280, 7344, 7408, 7472, 7536, 7600, 7664, 7728, 7792, 7856, 7920, 7984, 8048, 8112, 8176, 8240, 8304, 8368, 8432, 8496, 8560, 8624, 8688, 8752, 8846, 8980, 9044, 9108, 9172, 9236, 9300, 9364, 9428, 9492, 9556, 9620, 9684, 9748, 9814]
e6604 = [32, 96, 160, 224, 288, 352, 416, 480, 544, 608, 672, 736, 800, 864, 928, 992, 1052, 1150, 1216, 1332, 1396, 1460, 1546, 1680, 1744, 1808, 1872, 1936, 2000, 2064, 2128, 2192, 2256, 2320, 2384, 2448, 2512, 2576, 2640, 2704, 2768, 2832, 2896, 2960, 3024, 3088, 3152, 3216, 3294, 3364, 3428, 3492, 3556, 3620, 3684, 3748, 3812, 3876, 3940, 4004, 4068, 4132, 4196, 4260, 4324, 4388, 4452, 4538, 4676, 4740, 4804, 4868, 4932, 4996, 5060, 5136, 5284, 5348, 5412, 5476, 5540, 5632, 5772, 5836, 5900, 5964, 6028, 6092, 6156, 6220, 6284, 6348, 6412, 6476, 6540, 6622, 6704, 6768, 6832, 6896, 6960, 7024, 7088, 7152, 7216, 7280, 7344, 7408, 7472, 7536, 7600, 7664, 7762, 7908, 7972, 8036, 8100, 8164, 8228, 8292, 8356, 8420, 8484, 8548, 8612, 8676, 8740, 8804, 8868, 8932, 8996, 9060, 9124, 9188, 9252, 9316, 9380, 9444, 9508, 9572, 9636, 9700, 9784]
e6603 = [140, 204, 268, 332, 396, 460, 524, 588, 652, 716, 784, 1020, 1084, 1148, 1212, 1276, 1340, 1404, 1468, 1532, 1596, 1660, 1724, 1788, 1852, 1916, 1980, 2044, 2108, 2172, 2236, 2300, 2376, 2512, 2576, 2640, 2704, 2768, 2832, 2896, 2960, 3024, 3088, 3152, 3216, 3294, 3464, 3528, 3592, 3656, 3720, 3784, 3848, 3926, 4052, 4116, 4180, 4272, 4424, 4488, 4552, 4616, 4680, 4744, 4808, 4872, 4952, 5344, 5408, 5472, 5536, 5600, 5664, 5728, 5792, 5856, 5920, 5984, 6048, 6112, 6176, 6240, 6304, 6368, 6432, 6496, 6560, 6632, 6940, 7004, 7068, 7132, 7196, 7260, 7324, 7388, 7452, 7516, 7580, 7654, 7768, 7832, 7896, 7960, 8024, 8088, 8152, 8216, 8280, 8340, 8448, 8512, 8576, 8640, 8704, 8768, 8832, 8896, 8960, 9024, 9088, 9152, 9216, 9280, 9344, 9432, 9580, 9644, 9708, 9772, 9830]
e6602 = [32, 96, 160, 224, 288, 352, 416, 480, 544, 608, 672, 736, 800, 864, 928, 1000, 1112, 1176, 1240, 1304, 1368, 1432, 1496, 1560, 1646, 1832, 1896, 1960, 2024, 2088, 2170, 2300, 2364, 2428, 2492, 2556, 2620, 2684, 2748, 2812, 2876, 2964, 3112, 3176, 3240, 3306, 3364, 3428, 3492, 3556, 3620, 3684, 3748, 3816, 4316, 4380, 4444, 4508, 4572, 4636, 4730, 4884, 4948, 5012, 5076, 5140, 5204, 5268, 5332, 5396, 5460, 5524, 5588, 5652, 5716, 5810, 5964, 6028, 6092, 6156, 6220, 6284, 6348, 6412, 6476, 6540, 6622, 6908, 6972, 7036, 7100, 7164, 7228, 7304, 7420, 7484, 7548, 7612, 7676, 7740, 7804, 7868, 7932, 7996, 8060, 8124, 8188, 8270, 8428, 8492, 8556, 8620, 8684, 8762, 8888, 8952, 9016, 9080, 9144, 9208, 9272, 9336, 9400, 9464, 9528, 9592, 9656, 9720, 9784, 9836]

adc_levels = [6631, 6630, 6629, 6628, 6627, 6626, 6625, 6624, 6623, 6622, 6621, 6620, 6619, 6618, 6617,
              6616, 6615, 6614, 6613, 6612, 6611, 6610, 6609, 6608, 6607, 6606, 6605, 6604, 6603, 6602,
              6601, 6600, 6599, 6598, 6597, 6596, 6595, 6594, 6593, 6592, 6591, 6590, 6589, 6588, 6586,
              6615, 6614, 6613, 6612, 6611, 6610, 6609, 6608, 6607, 6606, 6605, 6604, 6603, 6602]
level_samples = [s6631, s6630, s6629, s6628, s6627, s6626, s6625, s6624, s6623, s6622, s6621, s6620, s6619, s6618, s6617,
                 s6616, s6615, s6614, s6613, s6612, s6611, s6610, s6609, s6608, s6607, s6606, s6605, s6604, s6603, s6602,
                 s6601, s6600, s6599, s6598, s6597, s6596, s6595, s6594, s6593, s6592, s6591, s6590, s6589, s6588, s6586,
                 e6615, e6614, e6613, e6612, e6611, e6610, e6609, e6608, e6607, e6606, e6605, e6604, e6603, e6602]

x = []
y = []
for level, samples in zip(adc_levels, level_samples):
    x.extend(samples)
    y.extend([level] * len(samples))

fig, ax = plt.subplots(figsize=(10, 10), dpi=100)
ax.plot(x, y, '.', color='k', label='Samples\n$\\mu$ = 6607.43, $\\sigma$ = 6.1')
ax.set_title('Run 664, channel068, Pedestal', pad=5.5)
ax.set_xlabel('Sample #')
ax.set_ylabel('ADC Counts')
ax.grid(True)
ax.legend(loc='upper right')
fig.subplots_adjust(left=0.081, right=0.985, top=0.965, bottom=0.059)
fig.savefig('out.png')
